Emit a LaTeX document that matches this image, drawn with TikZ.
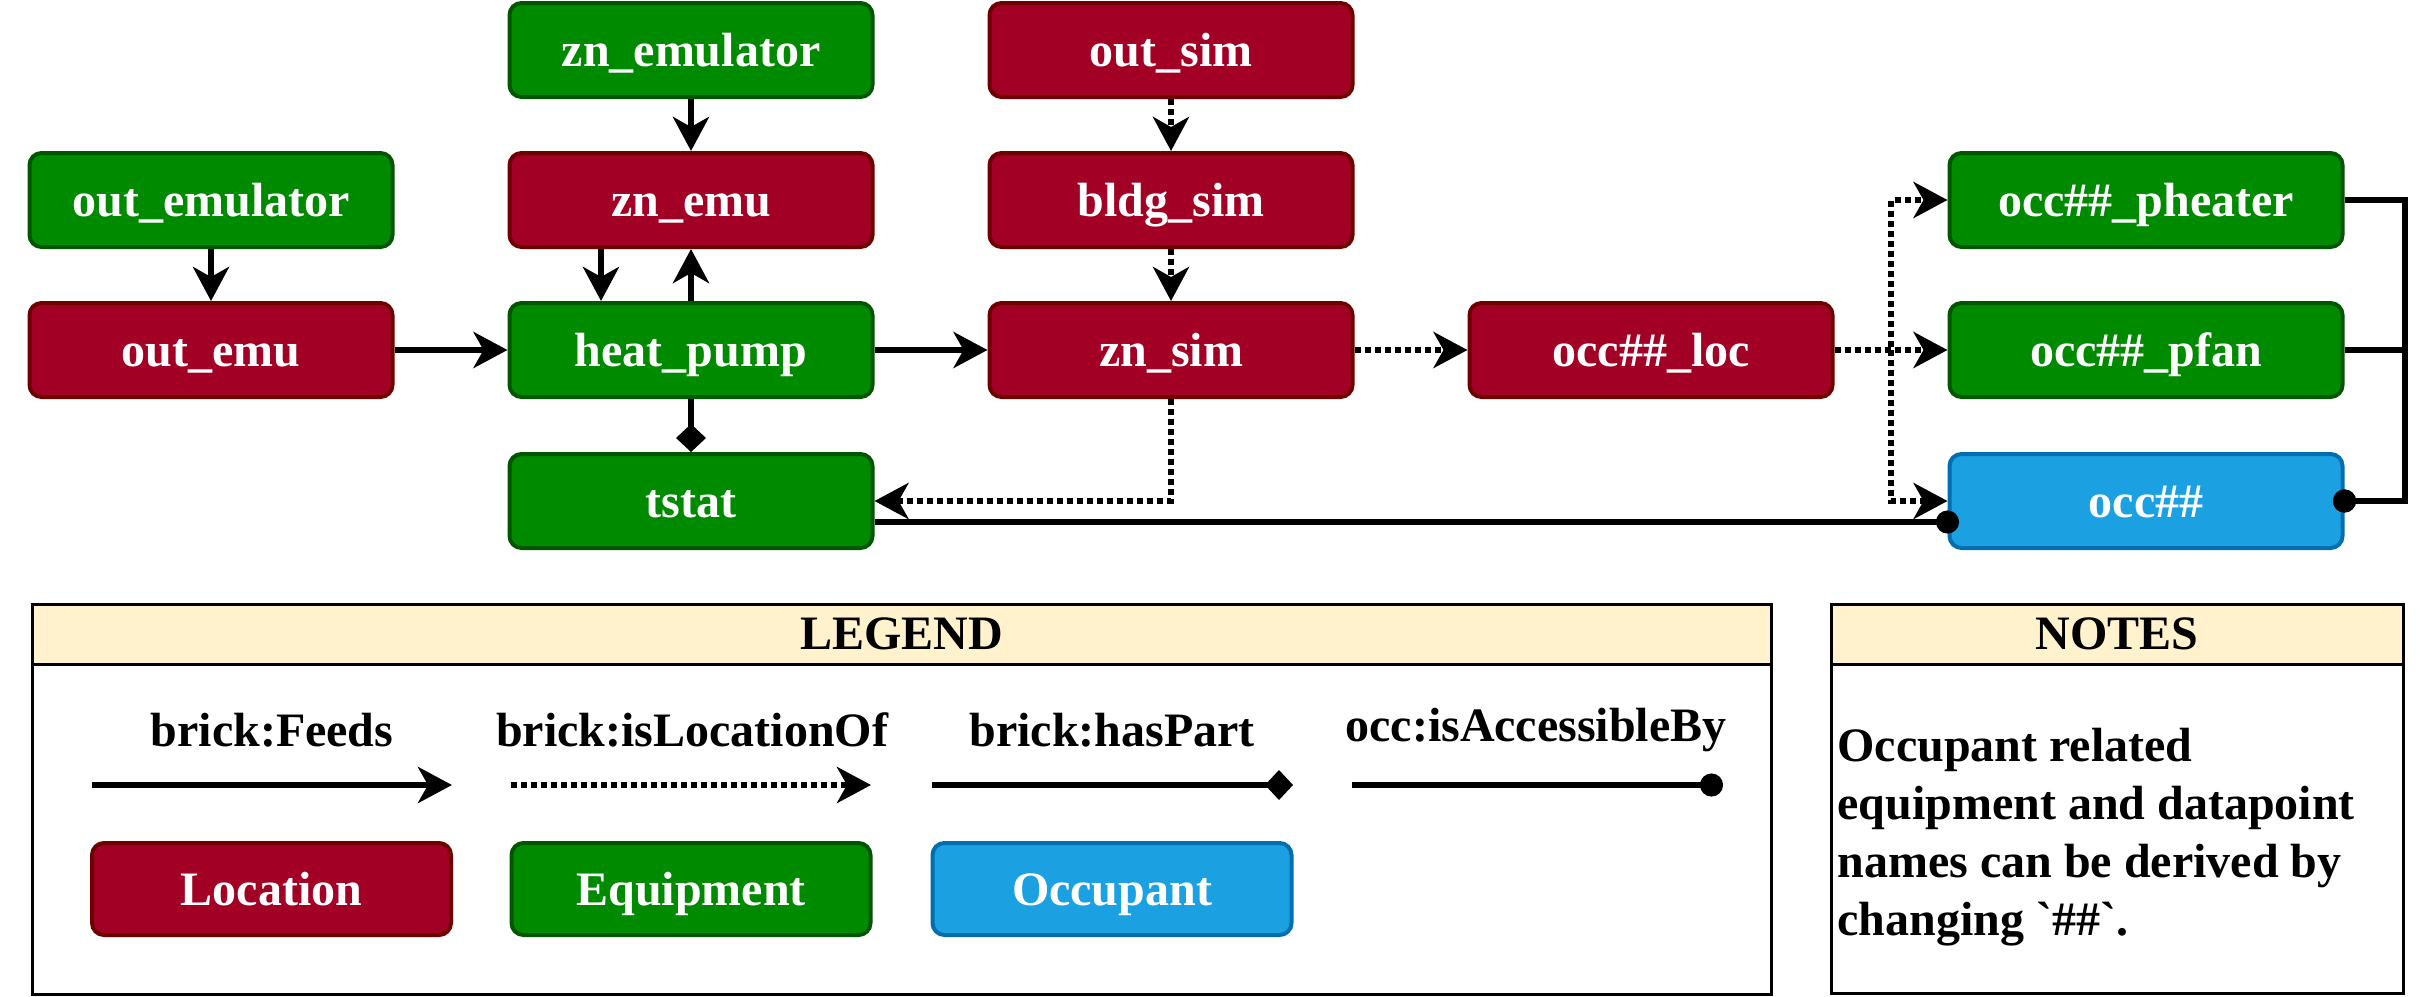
\documentclass[tikz,border=0pt]{standalone}
\usepackage{fontspec}
\setmainfont{Liberation Serif}[Ligatures=TeXOff]
\usetikzlibrary{arrows.meta}
\definecolor{locfill}{HTML}{A20025}
\definecolor{locdraw}{HTML}{6F0000}
\definecolor{eqfill}{HTML}{008A00}
\definecolor{eqdraw}{HTML}{005700}
\definecolor{occfill}{HTML}{1BA1E2}
\definecolor{occdraw}{HTML}{006EAF}
\definecolor{hdrfill}{HTML}{FFF2CC}
\begin{document}
\begin{tikzpicture}[x=0.5pt,y=-0.5pt,
  lbl/.style={font=\fontsize{24}{28}\selectfont\bfseries, inner sep=0pt},
  box/.style={lbl, rectangle, rounded corners=6pt, line width=2pt, minimum width=181.5pt, minimum height=47pt, text=white, text height=16.6pt, text depth=0pt},
  loc/.style={box, fill=locfill, draw=locdraw},
  equip/.style={box, fill=eqfill, draw=eqdraw},
  occb/.style={box, fill=occfill, draw=occdraw},
  feeds/.style={line width=3pt, -{Stealth[length=17pt,width=18pt,inset=5pt]}},
  islocof/.style={feeds, dash pattern=on 3pt off 2pt},
  haspart/.style={line width=3pt, -{Diamond[length=14pt,width=15pt]}},
  access/.style={line width=3pt, -{Circle[length=11.5pt]}},
  accessc/.style={access, shorten >=-5.75pt},
  panel/.style={draw, line width=1.5pt, fill=white, inner sep=0pt},
  hdr/.style={draw, line width=1.5pt, fill=hdrfill, lbl},
]
\useasboundingbox (0,0) rectangle (2430,996);

% nodes
\node[equip] (zne) at (691,50) {zn\_emulator};
\node[loc] (outsim) at (1171,50) {out\_sim};
\node[equip] (oute) at (211,200) {out\_emulator};
\node[loc] (znemu) at (691,200) {zn\_emu};
\node[loc] (bldg) at (1171,200) {bldg\_sim};
\node[equip, minimum width=196.5pt] (phe) at (2146,200) {occ\#\#\_pheater};
\node[loc] (outemu) at (211,350) {out\_emu};
\node[equip] (hp) at (691,350) {heat\_pump};
\node[loc] (znsim) at (1171,350) {zn\_sim};
\node[loc] (occloc) at (1651,350) {occ\#\#\_loc};
\node[equip, minimum width=196.5pt] (pfan) at (2146,350) {occ\#\#\_pfan};
\node[equip] (tstat) at (691,501) {tstat};
\node[occb, minimum width=196.5pt] (occ) at (2146,501) {occ\#\#};

% connectors
\draw[feeds] (oute) -- (outemu);
\draw[feeds] (zne) -- (znemu);
\draw[feeds] ([xshift=-45pt]znemu.south) -- ([xshift=-45pt]hp.north);
\draw[feeds] (hp) -- (znemu);
\draw[feeds] (outemu) -- (hp);
\draw[feeds] (hp) -- (znsim);
\draw[haspart] (hp) -- (tstat);
\draw[islocof] (outsim) -- (bldg);
\draw[islocof] (bldg) -- (znsim);
\draw[islocof] (znsim.south) |- (tstat.east);
\draw[islocof] (znsim) -- (occloc);
\coordinate (trunk) at (1891,350);
\draw[islocof] (occloc.east) -- (trunk) |- (phe.west);
\draw[islocof] (occloc) -- (pfan);
\draw[islocof] (trunk) |- (occ.west);
\draw[accessc] (phe.east) -- ++(30pt,0) |- (occ.east);
\draw[accessc] (pfan.east) -- ++(30pt,0) |- (occ.east);
\draw[accessc] ([yshift=-10.5pt]tstat.east) -- ([yshift=-10.5pt]occ.west);

% legend
\node[panel, minimum width=869.5pt, minimum height=195pt] (legend) at (901.5,799) {};
\node[hdr, minimum width=869.5pt, minimum height=30pt] (leghdr) at (901.5,634) {LEGEND};
\node[lbl] (l1) at (272,730) {brick:Feeds};
\node[lbl] (l2) at (692,730) {brick:isLocationOf};
\node[lbl] (l3) at (1112,730) {brick:hasPart};
\node[lbl] (l4) at (1536,730) {occ:isAccessibleBy};
\coordinate (a1s) at (92,785); \coordinate (a1e) at (452,785);
\coordinate (a2s) at (511,785); \coordinate (a2e) at (871,785);
\coordinate (a3s) at (932,785); \coordinate (a3e) at (1293,785);
\coordinate (a4s) at (1352,785); \coordinate (a4e) at (1723,785);
\draw[feeds] (a1s) -- (a1e);
\draw[islocof] (a2s) -- (a2e);
\draw[haspart] (a3s) -- (a3e);
\draw[access] (a4s) -- (a4e);
\node[loc, minimum width=179.5pt, minimum height=46pt] (kloc) at (271.5,889) {Location};
\node[equip, minimum width=179.5pt, minimum height=46pt] (keq) at (691,889) {Equipment};
\node[occb, minimum width=179.5pt, minimum height=46pt] (kocc) at (1112,889) {Occupant};

% notes
\node[panel, minimum width=286pt, minimum height=194.5pt] (notes) at (2117,798.5) {};
\node[hdr, minimum width=286pt, minimum height=30pt] (notehdr) at (2117,634) {NOTES};
\node[lbl, anchor=west, align=left, font=\fontsize{24}{29}\selectfont\bfseries] (notetext) at (1837,837)
  {Occupant related\\equipment and datapoint\\names can be derived by\\changing `\#\#`.};
\end{tikzpicture}
\end{document}
